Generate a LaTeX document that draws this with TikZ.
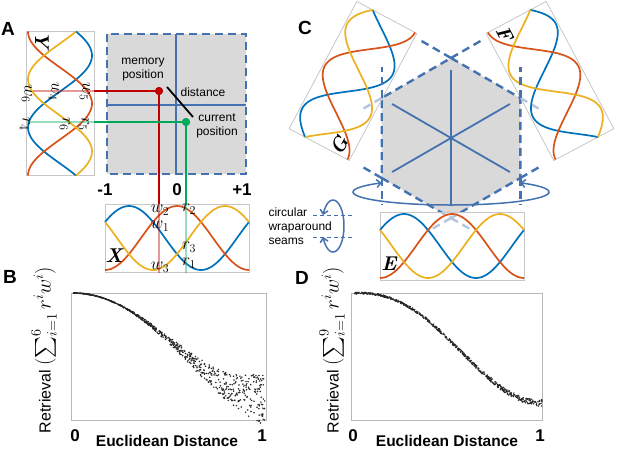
\documentclass[tikz,border=0pt]{standalone}
\usepackage{fontspec}
\setsansfont{Liberation Sans}
\usepackage{amsmath}
\usetikzlibrary{positioning,calc,arrows.meta}
\definecolor{mblue}{RGB}{0,114,189}
\definecolor{morange}{RGB}{217,83,25}
\definecolor{myellow}{RGB}{237,177,32}
\definecolor{gridblue}{RGB}{68,114,176}
\definecolor{memred}{RGB}{192,0,0}
\definecolor{curgreen}{RGB}{0,168,90}
\definecolor{fieldgrey}{RGB}{217,217,217}
\tikzset{%
panel/.style={draw=black!22,line width=0.8pt,fill=white,fill opacity=0.6},
wave/.style={line width=1.7pt},
field/.style={draw=gridblue,fill=fieldgrey,line width=2.4pt,dash pattern=on 8pt off 5pt},
seamline/.style={draw=gridblue,line width=2.4pt,dash pattern=on 8pt off 5pt},
axisline/.style={draw=gridblue,line width=1.8pt},
trace/.style={line width=2.8pt},
dot/.style={circle,fill,inner sep=0pt,minimum size=8pt},
lbl/.style={font=\sffamily\bfseries\fontsize{19}{19}\selectfont},
ticklbl/.style={font=\sffamily\bfseries\fontsize{17}{17}\selectfont},
axlbl/.style={font=\sffamily\bfseries\fontsize{15.5}{16}\selectfont},
ylbl/.style={font=\sffamily\fontsize{16}{16}\selectfont,rotate=90,inner sep=0pt},
note/.style={font=\sffamily\fontsize{12}{14}\selectfont,align=center},
sym/.style={font=\fontsize{17}{17}\selectfont,inner sep=0pt},
big/.style={font=\bfseries\itshape\fontsize{20}{20}\selectfont,inner sep=0pt,transform shape},
plotframe/.style={draw=black!28,line width=0.8pt},
sample/.style={fill=black!85},
seamarrow/.style={draw=gridblue,line width=1.5pt,
  {Straight Barb[length=4pt,width=8pt]}-{Straight Barb[length=4pt,width=8pt]}}
}
\newcommand{\wavebox}[1]{%
  \draw[panel] (-72,-34) rectangle (72,34);
  \draw[wave,mblue] plot[domain=0:1,samples=61,smooth] ({-72+144*\x},{-32*cos(360*(\x-1/6))});
  \draw[wave,morange] plot[domain=0:1,samples=61,smooth] ({-72+144*\x},{-32*cos(360*(\x-1/2))});
  \draw[wave,myellow] plot[domain=0:1,samples=61,smooth] ({-72+144*\x},{-32*cos(360*(\x-5/6))});
  \node[big] (tag#1) at (-63,18) {#1};
}
\begin{document}
\begin{tikzpicture}[x=1pt,y=-1pt]
\useasboundingbox (0,0) rectangle (617,448);

% A: grid cell with memory and current position
\node[lbl] (labA) at (8,29) {A};
\begin{scope}[shift={(60,103.5)},rotate=-90] \wavebox{Y} \end{scope}
\begin{scope}[shift={(177,238)}] \wavebox{X} \end{scope}
\draw[field] (107,34) rectangle (246,174);
\draw[axisline] (176,34) -- (176,174);
\draw[axisline] (107,105) -- (246,105);

\node[dot,memred] (mem) at (159,91) {};
\node[dot,curgreen] (cur) at (186,122) {};
\coordinate (memY) at (94,91);   \coordinate (memYend) at (33,91);
\coordinate (memX) at (159,204); \coordinate (memXend) at (159,273);
\coordinate (curY) at (94,122);  \coordinate (curYend) at (27,122);
\coordinate (curX) at (186,204); \coordinate (curXend) at (186,273);
\draw[trace,memred] (mem.center) -- (memY);
\draw[trace,memred] (mem.center) -- (memX);
\draw[trace,memred,opacity=.4] (memY) -- (memYend);
\draw[trace,memred,opacity=.4] (memX) -- (memXend);
\draw[trace,curgreen] (cur.center) -- (curY);
\draw[trace,curgreen] (cur.center) -- (curX);
\draw[trace,curgreen,opacity=.4] (curY) -- (curYend);
\draw[trace,curgreen,opacity=.4] (curX) -- (curXend);
\node[dot,memred] at (mem) {};
\node[dot,curgreen] at (cur) {};

\coordinate (distA) at (167,87);
\coordinate (distB) at (193,117);
\draw[line width=1.8pt] (distA) -- (distB);

\node[note] (memtxt) at (143,70) {memory\\position};
\node[note] (disttxt) at (203,92) {distance};
\node[note] (curtxt) at (217,126) {current\\position};

\node[ticklbl] (tm1) at (105,190) {-1};
\node[ticklbl] (t0) at (177,190) {0};
\node[ticklbl] (tp1) at (242,190) {+1};

\node[sym] (xw2) at (160,210) {$w_2$};
\node[sym] (xw1) at (160,226) {$w_1$};
\node[sym] (xw3) at (160,267) {$w_3$};
\node[sym] (xr2) at (189,209) {$r_2$};
\node[sym] (xr3) at (189,247) {$r_3$};
\node[sym] (xr1) at (189,263) {$r_1$};
\node[sym,rotate=-90] (yw6) at (27,94) {$w_6$};
\node[sym,rotate=-90] (yw4) at (54,92) {$w_4$};
\node[sym,rotate=-90] (yw5) at (85,92) {$w_5$};
\node[sym,rotate=-90] (yr4) at (25,124) {$r_4$};
\node[sym,rotate=-90] (yr6) at (65,124) {$r_6$};
\node[sym,rotate=-90] (yr5) at (84,124) {$r_5$};

% C: hexagonal cell with three wave panels
\node[lbl] (labC) at (305,28) {C};
\coordinate (hc) at (451,138);
\coordinate (hT) at (451,58);
\coordinate (hUR) at (520.3,98);
\coordinate (hLR) at (520.3,178);
\coordinate (hB) at (451,218);
\coordinate (hLL) at (381.7,178);
\coordinate (hUL) at (381.7,98);
\draw[field] (hT) -- (hUR) -- (hLR) -- (hB) -- (hLL) -- (hUL) -- cycle;
\draw[seamline] (hUL) -- ($(hUL)!-0.3!(hT)$);
\draw[seamline] (hT) -- ($(hT)!-0.45!(hUL)$);
\draw[seamline] (hUR) -- ($(hUR)!-0.3!(hT)$);
\draw[seamline] (hT) -- ($(hT)!-0.45!(hUR)$);
\draw[seamline] (hLL) -- ($(hLL)!-0.3!(hB)$);
\draw[seamline] (hB) -- ($(hB)!-0.3!(hLL)$);
\draw[seamline] (hLR) -- ($(hLR)!-0.3!(hB)$);
\draw[seamline] (hB) -- ($(hB)!-0.3!(hLR)$);

\begin{scope}[shift={(353,81)},rotate=62] \wavebox{G} \end{scope}
\begin{scope}[shift={(550,81)},rotate=-62] \wavebox{F} \end{scope}
\begin{scope}[shift={(452,246)}] \wavebox{E} \end{scope}

\draw[seamline] (hUL) -- (381.7,67);
\draw[seamline] (hLL) -- (381.7,205);
\draw[seamline] (hUR) -- (520.3,67);
\draw[seamline] (hLR) -- (520.3,205);
\foreach \a in {90,30,-30}
  \draw[axisline] ($(hc)+(\a:68)$) -- ($(hc)-(\a:68)$);

\draw[seamarrow] plot[domain=-45:225,samples=60,smooth] ({451+98*cos(\x)},{192+13*sin(\x)});

% wraparound legend
\node[note,align=left,anchor=west] (seamtxt) at (265,226) {circular\\wraparound\\seams};
\coordinate (sA1) at (313,215.5); \coordinate (sA2) at (352,215.5);
\coordinate (sB1) at (313,237.5); \coordinate (sB2) at (352,237.5);
\draw[gridblue,line width=1pt,dash pattern=on 4pt off 3pt] (sA1) -- (sA2);
\draw[gridblue,line width=1pt,dash pattern=on 4pt off 3pt] (sB1) -- (sB2);
\draw[seamarrow] plot[domain=-155:155,samples=40,smooth] ({333+11*cos(\x)},{226+26*sin(\x)});

% B: retrieval, square grid
\node[lbl] (labB) at (10,277) {B};
\draw[plotframe] (71,293) rectangle (266,420);
\pgfmathsetseed{42}
\foreach \k in {1,...,750}{
  \pgfmathsetmacro{\ed}{rnd}
  \pgfmathsetmacro{\eg}{(1-cos(180*\ed))/2}
  \fill[sample] ({73+192*\ed},{293+105*\eg*(0.8+0.2*\eg)+28*\ed*\ed*\ed*rand}) circle[radius=0.85pt];
}
\node[ticklbl] (b0) at (75,436) {0};
\node[ticklbl] (b1) at (262,436) {1};
\node[axlbl,anchor=base] (bx) at (167,446) {Euclidean Distance};
\node[ylbl] (by) at (44,350)
  {Retrieval {\fontsize{20.5}{20.5}\selectfont$(\sum_{i=1}^{6} r^{i} w^{i})$}};

% D: retrieval, hexagonal grid
\node[lbl] (labD) at (302,278) {D};
\draw[plotframe] (351,293) rectangle (542,420);
\pgfmathsetseed{7}
\foreach \k in {1,...,600}{
  \pgfmathsetmacro{\ed}{rnd}
  \pgfmathsetmacro{\eg}{(1-cos(180*\ed))/2}
  \fill[sample] ({355+187*\ed},{293+110*\eg*sqrt(sqrt(\eg))+(0.8+2.5*\ed*\ed)*rand}) circle[radius=0.85pt];
}
\node[ticklbl] (d0) at (353,436) {0};
\node[ticklbl] (d1) at (540,436) {1};
\node[axlbl,anchor=base] (dx) at (447,446) {Euclidean Distance};
\node[ylbl] (dy) at (332,350)
  {Retrieval {\fontsize{20.5}{20.5}\selectfont$(\sum_{i=1}^{9} r^{i} w^{i})$}};
\end{tikzpicture}
\end{document}
